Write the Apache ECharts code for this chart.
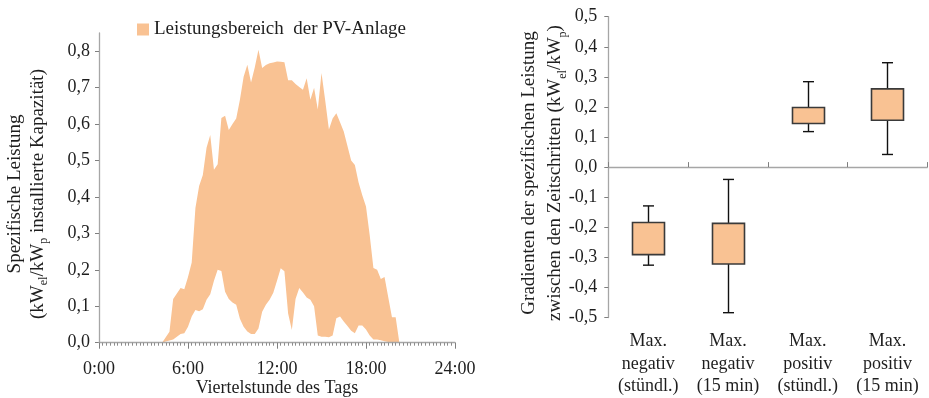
<!DOCTYPE html>
<html>
<head>
<meta charset="utf-8">
<script src="https://cdn.jsdelivr.net/npm/echarts@6/dist/echarts.min.js"></script>
<style>
  html, body { margin: 0; padding: 0; background: #fff; }
  #chart { width: 929px; height: 398px; }
</style>
</head>
<body>
<div id="chart"></div>
<script>
// Left panel: band of PV output per quarter hour (upper and lower envelope)
const upperEnvelope = [
  0, 0, 0, 0, 0, 0, 0, 0, 0, 0, 0, 0, 0, 0, 0, 0, 0,
  0, 0.015, 0.03, 0.12, 0.135, 0.15, 0.147, 0.18, 0.22, 0.37, 0.43, 0.46, 0.535, 0.57,
  0.475, 0.49, 0.617, 0.623, 0.584, 0.6, 0.615, 0.667, 0.73, 0.763, 0.714, 0.755, 0.804,
  0.754, 0.762, 0.767, 0.769, 0.772, 0.771, 0.77, 0.72, 0.72, 0.71, 0.702, 0.694, 0.726,
  0.667, 0.7, 0.64, 0.74, 0.665, 0.585, 0.615, 0.63, 0.605, 0.58, 0.54, 0.5, 0.488, 0.44,
  0.405, 0.374, 0.295, 0.205, 0.2, 0.175, 0.18, 0.125, 0.07, 0.07, 0,
  0, 0, 0, 0, 0, 0, 0, 0, 0, 0, 0, 0, 0, 0
];
const lowerEnvelope = [
  0, 0, 0, 0, 0, 0, 0, 0, 0, 0, 0, 0, 0, 0, 0, 0, 0, 0,
  0.003, 0.006, 0.009, 0.016, 0.024, 0.026, 0.044, 0.072, 0.09, 0.086, 0.092, 0.118, 0.133,
  0.17, 0.2, 0.197, 0.14, 0.12, 0.11, 0.104, 0.066, 0.044, 0.031, 0.024, 0.024, 0.039,
  0.085, 0.104, 0.118, 0.137, 0.17, 0.204, 0.196, 0.08, 0.035, 0.12, 0.15, 0.138, 0.124,
  0.118, 0.1, 0.02, 0.016, 0.016, 0.015, 0.02, 0.067, 0.072, 0.058, 0.046, 0.033, 0.026,
  0.047, 0.047, 0.036, 0.02, 0.009, 0.009, 0.007, 0.004, 0.002, 0.001, 0, 0,
  0, 0, 0, 0, 0, 0, 0, 0, 0, 0, 0, 0, 0, 0
];
const powerTicks = [0, 0.1, 0.2, 0.3, 0.4, 0.5, 0.6, 0.7, 0.8];

// Right panel: gradient box plots
const gradientCategories = [
  'Max.\nnegativ\n(stündl.)',
  'Max.\nnegativ\n(15 min)',
  'Max.\npositiv\n(stündl.)',
  'Max.\npositiv\n(15 min)'
];
const whiskerLow  = [-0.326, -0.484, 0.118, 0.042];
const boxLow      = [-0.291, -0.322, 0.145, 0.156];
const boxHigh     = [-0.184, -0.187, 0.198, 0.260];
const whiskerHigh = [-0.129, -0.041, 0.284, 0.347];

const FONT = '"Liberation Serif", "DejaVu Serif", serif';
const TEXT = '#1e1e1e';
const AXIS = '#a6a6a6';
const FILL = '#F9C293';
const TICK_SIZE = 18;
const TITLE_SIZE = 19;

const toQuarterPairs = arr => arr.map((v, i) => [i / 4, v]);
const boxData = gradientCategories.map((c, i) =>
  [i, whiskerLow[i], boxLow[i], boxHigh[i], whiskerHigh[i]]);
const comma = (v, d) => v.toFixed(d).replace('.', ',');

const chart = echarts.init(document.getElementById('chart'), null, { renderer: 'canvas' });

chart.setOption({
  animation: false,
  backgroundColor: '#fff',
  textStyle: { fontFamily: FONT, color: TEXT },
  legend: {
    data: ['Leistungsbereich  der PV-Anlage'],
    left: 132, top: 15,
    icon: 'rect', itemWidth: 12, itemHeight: 12, itemGap: 6,
    textStyle: { fontFamily: FONT, fontSize: TITLE_SIZE, color: TEXT }
  },
  grid: [
    { left: 99, top: 33, width: 356, height: 309.7 },
    { left: 608.3, top: 16.7, width: 319, height: 302.6 }
  ],
  xAxis: [
    {
      gridIndex: 0, type: 'value', min: 0, max: 24, interval: 6, z: 10,
      axisLine: { lineStyle: { color: AXIS, width: 1.3 } },
      axisTick: { show: true, length: 6, lineStyle: { color: '#7f7f7f' } },
      minorTick: { show: true, splitNumber: 24, length: 3, lineStyle: { color: '#8c8c8c' } },
      splitLine: { show: false },
      axisLabel: { fontFamily: FONT, fontSize: TICK_SIZE, color: TEXT, margin: 18,
        formatter: v => v + ':00' }
    },
    {
      gridIndex: 1, type: 'category', data: gradientCategories, position: 'bottom',
      axisLine: { show: false, onZero: false },
      axisTick: { show: false },
      axisLabel: { fontFamily: FONT, fontSize: TICK_SIZE, color: TEXT, margin: 13, lineHeight: 22.5,
        interval: 0 }
    },
    {
      gridIndex: 1, type: 'category', data: gradientCategories,
      axisLine: { show: true, onZero: true, lineStyle: { color: AXIS, width: 1.3 } },
      axisTick: { show: true, length: 5, lineStyle: { color: '#7f7f7f' } },
      axisLabel: { show: false }
    }
  ],
  yAxis: [
    {
      gridIndex: 0, type: 'value', min: 0, max: 0.85,
      splitLine: { show: false },
      axisLine: { show: true, lineStyle: { color: AXIS, width: 1.3 } },
      axisTick: { show: true, length: 4, customValues: powerTicks, lineStyle: { color: '#7f7f7f' } },
      axisLabel: { fontFamily: FONT, fontSize: TICK_SIZE, color: TEXT, margin: 9,
        customValues: powerTicks, formatter: v => comma(v, 1) }
    },
    {
      gridIndex: 1, type: 'value', min: -0.5, max: 0.5, interval: 0.1,
      splitLine: { show: false },
      axisLine: { show: true, onZero: false, lineStyle: { color: AXIS, width: 1.3 } },
      axisTick: { show: true, length: 4, lineStyle: { color: '#7f7f7f' } },
      axisLabel: { fontFamily: FONT, fontSize: TICK_SIZE, color: TEXT, margin: 11,
        formatter: v => comma(v, 1) }
    }
  ],
  series: [
    {
      name: 'Leistungsbereich  der PV-Anlage',
      type: 'line', xAxisIndex: 0, yAxisIndex: 0,
      data: toQuarterPairs(upperEnvelope),
      symbol: 'none', color: FILL,
      lineStyle: { width: 0 },
      areaStyle: { color: FILL, opacity: 1 },
      z: 2
    },
    {
      name: 'untere Grenze',
      type: 'line', xAxisIndex: 0, yAxisIndex: 0,
      data: toQuarterPairs(lowerEnvelope),
      symbol: 'none', color: '#fff',
      lineStyle: { width: 0 },
      areaStyle: { color: '#fff', opacity: 1 },
      z: 3
    },
    {
      name: 'Gradienten',
      type: 'custom', xAxisIndex: 1, yAxisIndex: 1,
      data: boxData,
      encode: { x: 0, y: [1, 2, 3, 4] },
      renderItem: function (params, api) {
        const c = api.value(0);
        const lo = api.coord([c, api.value(1)]);
        const q1 = api.coord([c, api.value(2)]);
        const q3 = api.coord([c, api.value(3)]);
        const hi = api.coord([c, api.value(4)]);
        const x = Math.round(lo[0]) + 0.5;
        const bw = 32, cw = 11;
        const whisker = { stroke: '#111', lineWidth: 1.4 };
        return {
          type: 'group',
          children: [
            { type: 'line', shape: { x1: x, y1: hi[1], x2: x, y2: q3[1] }, style: whisker },
            { type: 'line', shape: { x1: x, y1: q1[1], x2: x, y2: lo[1] }, style: whisker },
            { type: 'line', shape: { x1: x - cw / 2, y1: hi[1], x2: x + cw / 2, y2: hi[1] }, style: whisker },
            { type: 'line', shape: { x1: x - cw / 2, y1: lo[1], x2: x + cw / 2, y2: lo[1] }, style: whisker },
            { type: 'rect',
              shape: { x: x - bw / 2, y: q3[1], width: bw, height: q1[1] - q3[1] },
              style: { fill: FILL, stroke: '#3a3a3a', lineWidth: 1.6 } }
          ]
        };
      },
      z: 5
    }
  ],
  graphic: [
    {
      type: 'text', x: 26.5, y: 194, rotation: Math.PI / 2,
      style: {
        text: 'Spezifische Leistung\n(kW{sub|el}/kW{sub|p} installierte Kapazität)',
        font: TITLE_SIZE + 'px ' + FONT, fill: TEXT, align: 'center', verticalAlign: 'middle',
        lineHeight: 23,
        rich: { sub: { fontSize: 12, fontFamily: FONT, fill: TEXT, verticalAlign: 'bottom', lineHeight: 23 } }
      }
    },
    {
      type: 'text', x: 542.5, y: 173, rotation: Math.PI / 2,
      style: {
        text: 'Gradienten der spezifischen Leistung\nzwischen den Zeitschritten (kW{sub|el}/kW{sub|p})',
        font: TITLE_SIZE + 'px ' + FONT, fill: TEXT, align: 'center', verticalAlign: 'middle',
        lineHeight: 26,
        rich: { sub: { fontSize: 12, fontFamily: FONT, fill: TEXT, verticalAlign: 'bottom', lineHeight: 26 } }
      }
    },
    {
      type: 'text', x: 277, y: 388,
      style: {
        text: 'Viertelstunde des Tags',
        font: TICK_SIZE + 'px ' + FONT, fill: TEXT, align: 'center', verticalAlign: 'middle'
      }
    }
  ]
});
</script>
</body>
</html>
